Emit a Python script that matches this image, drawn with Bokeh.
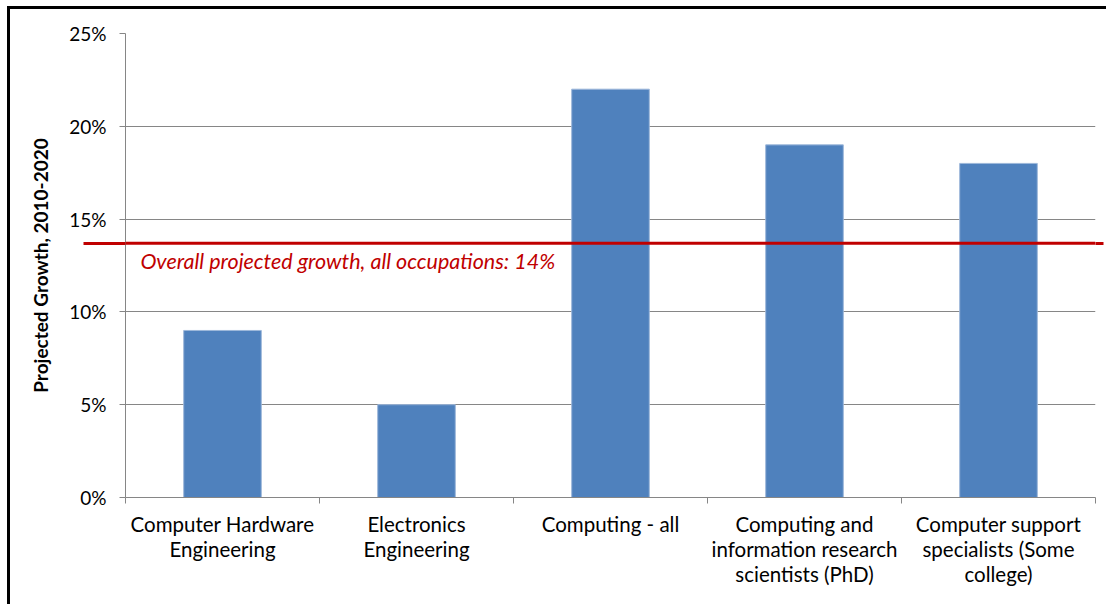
from bokeh.plotting import figure
from bokeh.models import FixedTicker, Span, Label, Range1d, LinearAxis
from bokeh.embed import file_html
from bokeh.resources import INLINE

categories = [
    "Computer Hardware\nEngineering",
    "Electronics\nEngineering",
    "Computing - all",
    "Computing and\ninformation research\nscientists (PhD)",
    "Computer support\nspecialists (Some\ncollege)",
]
growth = [9, 5, 22, 19, 18]
overall_growth = 13.7
overall_text = "Overall projected growth, all occupations: 14%"
y_ticks = [0, 5, 10, 15, 20, 25]
y_tick_labels = ["0%", "5%", "10%", "15%", "20%", "25%"]

FONT = "Lato"
GRAY = "#868686"
RED = "#C00000"

xs = list(range(1, len(categories) + 1))

p = figure(width=1106, height=604, output_backend="svg", toolbar_location=None,
           x_range=Range1d(0.5, len(categories) + 0.5), y_range=Range1d(0, 25),
           min_border_left=125, min_border_right=11, min_border_top=33, min_border_bottom=107)
p.outline_line_color = None
p.background_fill_color = "white"
p.border_fill_color = None
p.styles = {"box-shadow": "inset 7px 6px 0 0 white, inset 10px 9px 0 0 black", "background": "white"}

p.vbar(x=xs, top=growth, width=0.4, fill_color="#4F81BD", line_color="#9DB7DA", line_width=1)

# x axis
xa = p.xaxis[0]
xa.ticker = FixedTicker(ticks=xs, minor_ticks=[x - 0.5 for x in xs] + [xs[-1] + 0.5])
xa.major_label_overrides = {x: c for x, c in zip(xs, categories)}
xa.major_tick_line_color = None
xa.minor_tick_line_color = GRAY
xa.minor_tick_in = 0
xa.minor_tick_out = 6
xa.axis_line_color = GRAY
xa.major_label_text_font = FONT
xa.major_label_text_font_size = "20.5px"
xa.major_label_text_line_height = 1.05
xa.major_label_text_color = "black"
xa.major_label_standoff = 8
xa.major_label_orientation = "horizontal"

# y axis (minor tick carries the overall-growth line out to the left)
ya = p.yaxis[0]
ya.ticker = FixedTicker(ticks=y_ticks, minor_ticks=[overall_growth])
ya.major_label_overrides = {t: l for t, l in zip(y_ticks, y_tick_labels)}
ya.major_tick_in = 0
ya.major_tick_out = 6
ya.major_tick_line_color = GRAY
ya.minor_tick_in = 0
ya.minor_tick_out = 42
ya.minor_tick_line_color = RED
ya.minor_tick_line_width = 3
ya.axis_line_color = GRAY
ya.major_label_text_font = FONT
ya.major_label_text_font_size = "19px"
ya.major_label_text_color = "black"
ya.major_label_standoff = -23
ya.axis_label = "Projected Growth, 2010-2020"
ya.axis_label_text_font = FONT
ya.axis_label_text_font_style = "bold"
ya.axis_label_text_font_size = "19px"
ya.axis_label_text_color = "black"
ya.axis_label_standoff = 14

# right-hand axis: only a short red tick to extend the line past the frame
ra = LinearAxis(ticker=FixedTicker(ticks=[], minor_ticks=[overall_growth]),
                axis_line_color=None, major_tick_line_color=None,
                major_label_text_font_size="0px", major_label_standoff=0,
                minor_tick_in=0, minor_tick_out=8, minor_tick_line_color=RED,
                minor_tick_line_width=3)
p.add_layout(ra, "right")

p.xgrid.visible = False
p.ygrid.ticker = FixedTicker(ticks=y_ticks, minor_ticks=[])
p.ygrid.grid_line_color = GRAY

p.add_layout(Span(location=overall_growth, dimension="width", line_color=RED, line_width=3))

p.add_layout(Label(x=0.577, y=12.75, text=overall_text, text_font=FONT, text_font_style="italic",
                   text_font_size="21.5px", text_color=RED, text_baseline="middle"))

open("out.html", "w").write(file_html(p, INLINE))
